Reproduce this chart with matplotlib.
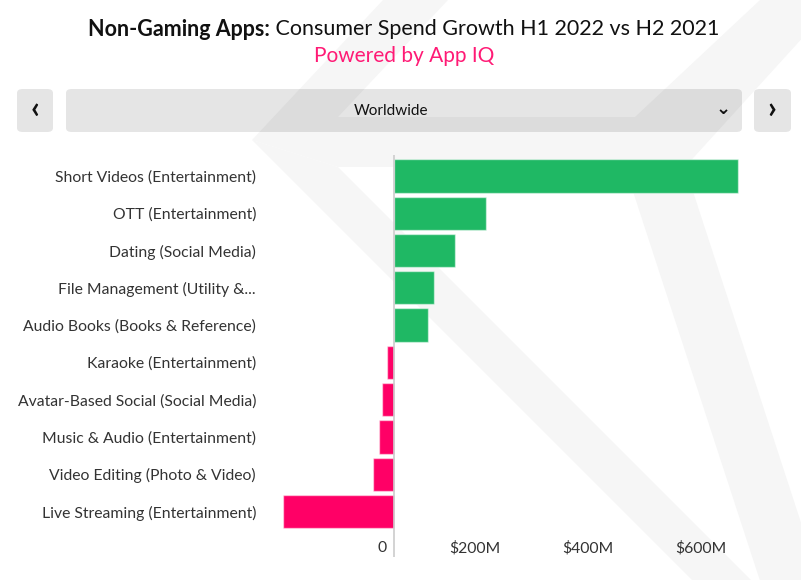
import matplotlib
matplotlib.use("Agg")
import matplotlib.pyplot as plt
from matplotlib.patches import Polygon, FancyBboxPatch
from matplotlib.transforms import blended_transform_factory

categories = ["Short Videos (Entertainment)", "OTT (Entertainment)", "Dating (Social Media)",
              "File Management (Utility &...", "Audio Books (Books & Reference)",
              "Karaoke (Entertainment)", "Avatar-Based Social (Social Media)",
              "Music & Audio (Entertainment)", "Video Editing (Photo & Video)",
              "Live Streaming (Entertainment)"]
growth = [608, 163, 108, 71, 61, -12, -21, -26, -38, -196]  # $M
ticks = [0, 200, 400, 600]
tick_labels = ["0", "$200M", "$400M", "$600M"]

W, H = 801, 580
green = "#1fb864"
pink = "#ff0066"
plt.rcParams["font.family"] = ["Lato", "DejaVu Sans"]

fig = plt.figure(figsize=(W / 100, H / 100), dpi=100)

def px(x, y):
    return (x / W, 1 - y / H)

# faint background watermark
wm = [
    [(252, 140), (383, 0), (448, 0), (338, 117), (338, 167)],
    [(338, 117), (635, 117), (685, 167), (338, 167)],
    [(252, 140), (338, 167), (761, 590), (702, 590)],
    [(625, 167), (685, 167), (823, 590), (763, 590)],
    [(635, 117), (760, 0), (837, 0), (685, 167), (625, 167)],
]
for poly in wm:
    fig.patches.append(Polygon([px(*p) for p in poly], closed=True, transform=fig.transFigure,
                               facecolor="#f6f6f6", edgecolor="none", zorder=-3))

# selector bar
for x0, x1 in [(17, 53), (66, 742), (754, 791)]:
    x, y = px(x0, 132)
    fig.patches.append(FancyBboxPatch((x, y), (x1 - x0) / W, 43 / H,
                                      boxstyle="round,pad=0,rounding_size=0.007",
                                      transform=fig.transFigure, facecolor=(0, 0, 0, 0.1),
                                      edgecolor="none", zorder=-2))
fig.text(*px(35, 109), "‹", ha="center", va="center", fontsize=22, fontweight="bold", color="#111")
fig.text(*px(772, 109), "›", ha="center", va="center", fontsize=22, fontweight="bold", color="#111")
fig.text(*px(391, 111), "Worldwide", ha="center", va="center", fontsize=11, color="#111")
fig.text(*px(723, 109), "⌄", ha="center", va="center", fontsize=13, fontweight="bold",
         color="#111", family="DejaVu Sans")

# title: bold part + regular part, centred together
r = fig.canvas.get_renderer()
t1 = fig.text(0, 0, "Non-Gaming Apps:", fontsize=15.5, fontweight="bold", color="#111")
t2 = fig.text(0, 0, " Consumer Spend Growth H1 2022 vs H2 2021", fontsize=15.5, color="#111")
w1 = t1.get_window_extent(r).width
w2 = t2.get_window_extent(r).width
x0 = 404 - (w1 + w2) / 2
t1.set_position(px(x0, 29)); t1.set_va("center")
t2.set_position(px(x0 + w1, 29)); t2.set_va("center")
fig.text(*px(404, 56), "Powered by App IQ", ha="center", va="center", fontsize=15, color="#ff1a75")

# chart
left, right, top, bottom = 270, 760, 155, 557
ax = fig.add_axes([left / W, 1 - bottom / H, (right - left) / W, (bottom - top) / H])
ax.patch.set_alpha(0)
zero_px, per200 = 394, 113
ax.set_xlim((left - zero_px) / per200 * 200, (right - zero_px) / per200 * 200)
ax.set_ylim(len(categories) - 1 + 1.22, -0.563)

colors = [green if v >= 0 else pink for v in growth]
ax.barh(range(len(categories)), growth, height=0.893, color=colors,
        edgecolor=(1, 1, 1, 0.5), linewidth=1, zorder=2)
ax.axvline(0, color="#cccccc", lw=1.2, zorder=3)

ax.set_yticks(range(len(categories)))
ax.set_yticklabels(categories, fontsize=11.3, color="#333333")
ax.tick_params(axis="y", length=0, pad=10)
ax.set_xticks([])
for s in ax.spines.values():
    s.set_visible(False)

tr = blended_transform_factory(ax.transData, ax.transAxes)
for t, lab in zip(ticks, tick_labels):
    ax.text(t - 7 / per200 * 200, (bottom - 548) / (bottom - top), lab, transform=tr,
            ha="right", va="center", fontsize=11.3, color="#333333")

fig.savefig("out.png", dpi=100, facecolor="white")
